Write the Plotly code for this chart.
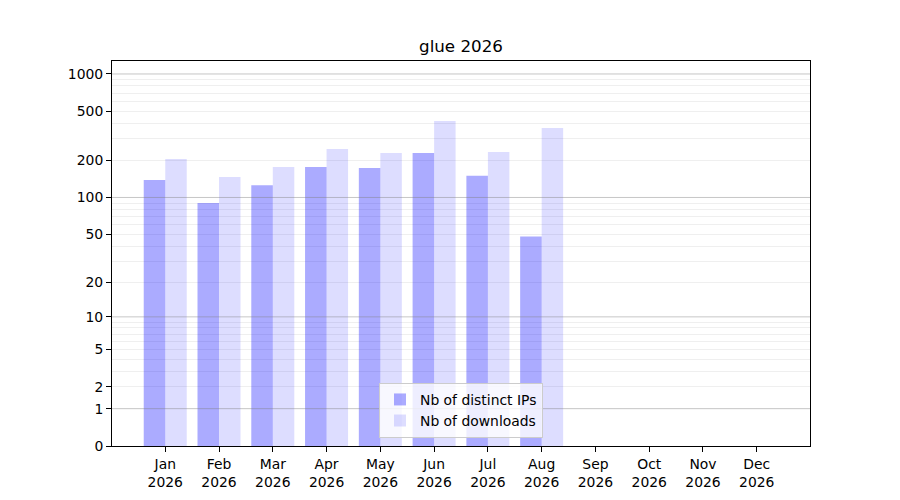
import plotly.graph_objects as go

title = "glue 2026"
months = ["Jan", "Feb", "Mar", "Apr", "May", "Jun", "Jul", "Aug", "Sep", "Oct", "Nov", "Dec"]
year = "2026"
distinct_ips = [139, 90, 126, 177, 174, 230, 150, 48, 0, 0, 0, 0]
downloads = [205, 147, 177, 248, 230, 417, 234, 366, 0, 0, 0, 0]

y_ticks = [0, 1, 2, 5, 10, 20, 50, 100, 200, 500, 1000]
major_grid = [1, 10, 100, 1000]
minor_grid = [m * d for d in (1, 10, 100) for m in range(2, 10)]

FONT = "DejaVu Sans"
x_idx = list(range(len(months)))

# y axis is log10(1 + y): plot 1 + value on a log axis
fig = go.Figure()
fig.add_trace(go.Bar(
    x=x_idx, y=[v + 1 for v in distinct_ips],
    name="Nb of distinct IPs",
    marker=dict(color="rgba(0,0,255,0.33)", line=dict(width=0)),
))
fig.add_trace(go.Bar(
    x=x_idx, y=[v + 1 for v in downloads],
    name="Nb of downloads",
    marker=dict(color="rgba(0,0,255,0.135)", line=dict(width=0)),
))

for g in major_grid:
    fig.add_shape(type="line", xref="paper", yref="y", x0=0, x1=1, y0=g + 1, y1=g + 1,
                  line=dict(color="rgba(128,128,128,0.45)", width=1), layer="above")

# page body adds an 8px offset, so margins are shifted to compensate
fig.update_layout(
    width=900, height=500,
    paper_bgcolor="white", plot_bgcolor="white",
    font=dict(family=FONT, size=13.9, color="black"),
    title=dict(text=title, x=0.5, xref="paper", xanchor="center", y=0.924, yanchor="middle",
               font=dict(family=FONT, size=16.7, color="black")),
    margin=dict(l=104, r=98, t=53, b=62),
    barmode="group", bargap=0.2, bargroupgap=0,
    showlegend=True,
    legend=dict(x=0.5, y=0.021, xanchor="center", yanchor="bottom",
                bgcolor="rgba(255,255,255,0.8)", bordercolor="#cccccc", borderwidth=1,
                font=dict(family=FONT, size=13.9)),
)
fig.update_xaxes(
    range=[-0.99, 11.99],
    tickmode="array", tickvals=x_idx,
    ticktext=[f"{m}<br>{year}" for m in months],
    ticks="outside", ticklen=5, tickwidth=1, tickcolor="black",
    showgrid=False, zeroline=False,
    showline=True, linecolor="black", linewidth=1, mirror=True,
)
fig.update_yaxes(
    type="log", range=[0, 3.105],
    tickmode="array", tickvals=[t + 1 for t in y_ticks], ticktext=[str(t) for t in y_ticks],
    ticks="outside", ticklen=5, tickwidth=1, tickcolor="black",
    showgrid=False, zeroline=False,
    showline=True, linecolor="black", linewidth=1, mirror=True,
    minor=dict(tickmode="array", tickvals=[g + 1 for g in minor_grid], ticks="",
               showgrid=True, gridcolor="rgba(128,128,128,0.13)", gridwidth=1),
)

fig.write_html("out.html")
